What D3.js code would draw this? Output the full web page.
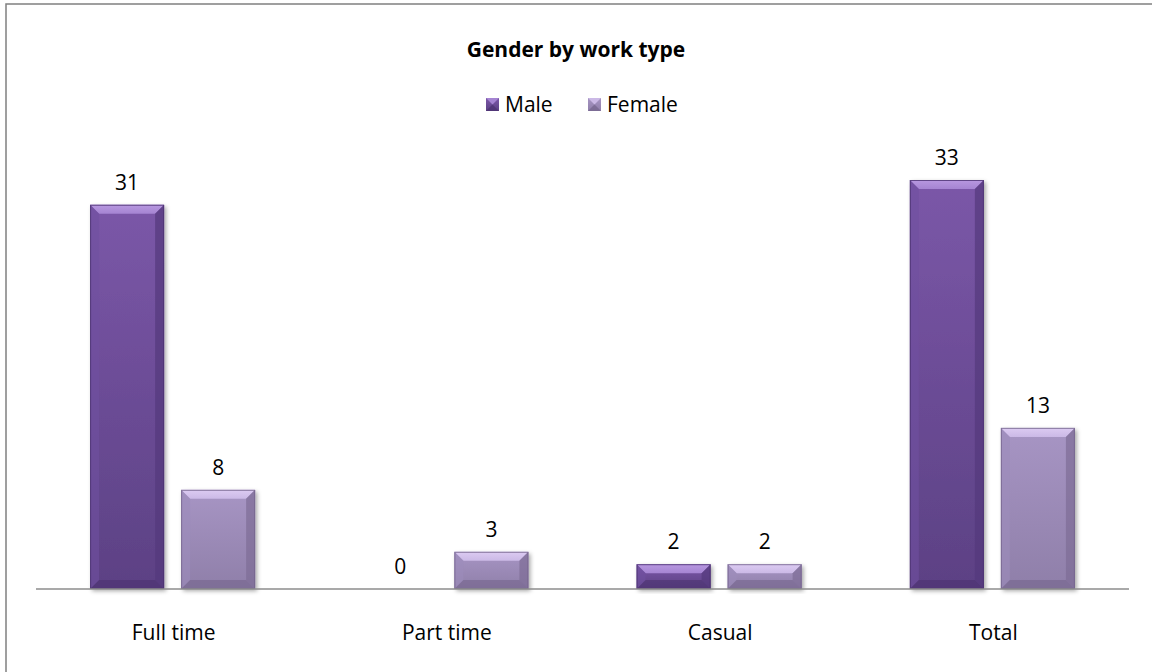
<!DOCTYPE html>
<html lang="en">
<head>
  <meta charset="UTF-8">
  <title>Gender by work type</title>
  <script src="https://d3js.org/d3.v7.min.js"></script>
  <style>
    body { margin: 0; background: #fff; }
    text { font-family: "Open Sans", "Noto Sans", sans-serif; fill: #000; }
  </style>
</head>
<body>
<script>
  // Chart data
  const categories = ['Full time', 'Part time', 'Casual', 'Total'];
  const seriesNames = ['Male', 'Female'];
  const maleValues = [31, 0, 2, 33];
  const femaleValues = [8, 3, 2, 13];

  const width = 1152;
  const height = 672;
  const plot = { left: 36, right: 1129, base: 589, top: 180 };

  const colors = {
    Male:   { top: '#7b57a8', bottom: '#5c4184', light: '#a584d2', hi: '#b898e0', right: '#54397c', lower: '#4b3270', left: '#7050a0' },
    Female: { top: '#a795c4', bottom: '#8f7fa9', light: '#cbb9e6', hi: '#dccbf2', right: '#7d6c96', lower: '#74648c', left: '#9d8cba' }
  };

  const svg = d3.select('body').append('svg')
    .attr('width', width)
    .attr('height', height);

  const defs = svg.append('defs');
  defs.append('filter').attr('id', 'shadow')
    .attr('x', '-20%').attr('y', '-20%').attr('width', '140%').attr('height', '140%')
    .append('feDropShadow')
    .attr('dx', 2).attr('dy', 2).attr('stdDeviation', 2)
    .attr('flood-color', '#000').attr('flood-opacity', 0.35);

  seriesNames.forEach(s => {
    const g = defs.append('linearGradient').attr('id', 'grad-' + s)
      .attr('x1', 0).attr('y1', 0).attr('x2', 0).attr('y2', 1);
    g.append('stop').attr('offset', '0%').attr('stop-color', colors[s].top);
    g.append('stop').attr('offset', '100%').attr('stop-color', colors[s].bottom);
    const t = defs.append('linearGradient').attr('id', 'bevel-' + s)
      .attr('x1', 0).attr('y1', 0).attr('x2', 0).attr('y2', 1);
    t.append('stop').attr('offset', '0%').attr('stop-color', colors[s].hi);
    t.append('stop').attr('offset', '100%').attr('stop-color', colors[s].light);
  });

  // outer border
  svg.append('rect')
    .attr('x', 6).attr('y', 4)
    .attr('width', width).attr('height', height)
    .attr('fill', 'none')
    .attr('stroke', '#808080')
    .attr('stroke-width', 1.5);

  // Title
  svg.append('text')
    .attr('x', 576).attr('y', 57)
    .attr('text-anchor', 'middle')
    .style('font-size', '21px')
    .style('font-weight', 'bold')
    .text('Gender by work type');

  // Scales
  const x0 = d3.scaleBand()
    .domain(categories)
    .range([plot.left, plot.right])
    .paddingInner(0.396)
    .paddingOuter(0.198);

  const x1 = d3.scaleBand()
    .domain(seriesNames)
    .range([0, x0.bandwidth()])
    .paddingInner(0.187);

  const y = d3.scaleLinear()
    .domain([0, 33])
    .range([plot.base, plot.top]);

  const data = [];
  categories.forEach((c, i) => {
    data.push({ cat: c, series: 'Male', value: maleValues[i] });
    data.push({ cat: c, series: 'Female', value: femaleValues[i] });
  });

  // Bars with bevel
  function drawBar(g, x, yTop, w, h, s) {
    const b = Math.min(9, h / 2, w / 2);
    const c = colors[s];
    g.append('rect')
      .attr('x', x).attr('y', yTop).attr('width', w).attr('height', h)
      .attr('fill', `url(#grad-${s})`)
      .attr('filter', 'url(#shadow)');
    const poly = pts => g.append('polygon').attr('points', pts.map(p => p.join(',')).join(' '));
    poly([[x, yTop], [x + w, yTop], [x + w - b, yTop + b], [x + b, yTop + b]])
      .attr('fill', `url(#bevel-${s})`);
    poly([[x, yTop], [x + b, yTop + b], [x + b, yTop + h - b], [x, yTop + h]])
      .attr('fill', c.left).attr('opacity', 0.6);
    poly([[x + w, yTop], [x + w, yTop + h], [x + w - b, yTop + h - b], [x + w - b, yTop + b]])
      .attr('fill', c.right).attr('opacity', 0.7);
    poly([[x, yTop + h], [x + b, yTop + h - b], [x + w - b, yTop + h - b], [x + w, yTop + h]])
      .attr('fill', c.lower).attr('opacity', 0.6);
    g.append('rect')
      .attr('x', x + 0.5).attr('y', yTop + 0.5).attr('width', w - 1).attr('height', h - 1)
      .attr('fill', 'none').attr('stroke', c.lower).attr('stroke-width', 1).attr('opacity', 0.8);
  }

  const barsG = svg.append('g');
  data.forEach(d => {
    if (d.value <= 0) return;
    const bx = x0(d.cat) + x1(d.series);
    drawBar(barsG.append('g'), bx, y(d.value), x1.bandwidth(), plot.base - y(d.value), d.series);
  });

  // Axis line
  svg.append('line')
    .attr('x1', plot.left).attr('x2', plot.right)
    .attr('y1', plot.base).attr('y2', plot.base)
    .attr('stroke', '#8c8c8c')
    .attr('stroke-width', 1.5);

  // Value labels
  svg.append('g').selectAll('text')
    .data(data)
    .join('text')
    .attr('x', d => x0(d.cat) + x1(d.series) + x1.bandwidth() / 2)
    .attr('y', d => y(d.value) - 15)
    .attr('text-anchor', 'middle')
    .style('font-size', '21px')
    .text(d => d.value);

  // Category labels
  svg.append('g').selectAll('text')
    .data(categories)
    .join('text')
    .attr('x', d => x0(d) + x0.bandwidth() / 2 + 1)
    .attr('y', 640)
    .attr('text-anchor', 'middle')
    .style('font-size', '21px')
    .text(d => d);

  // Legend
  const legend = svg.append('g').attr('transform', 'translate(486, 98)');
  const legendX = [0, 102];
  seriesNames.forEach((s, i) => {
    const lg = legend.append('g').attr('transform', `translate(${legendX[i]}, 0)`);
    lg.append('rect').attr('x', 0).attr('y', 0).attr('width', 13).attr('height', 13)
      .attr('fill', `url(#grad-${s})`);
    lg.append('polygon').attr('points', '0,0 13,0 6.5,6.5').attr('fill', colors[s].light);
    lg.append('polygon').attr('points', '0,13 13,13 6.5,6.5').attr('fill', colors[s].lower).attr('opacity', 0.7);
    lg.append('text')
      .attr('x', 19).attr('y', 14)
      .style('font-size', '21px')
      .text(s);
  });
</script>
</body>
</html>
